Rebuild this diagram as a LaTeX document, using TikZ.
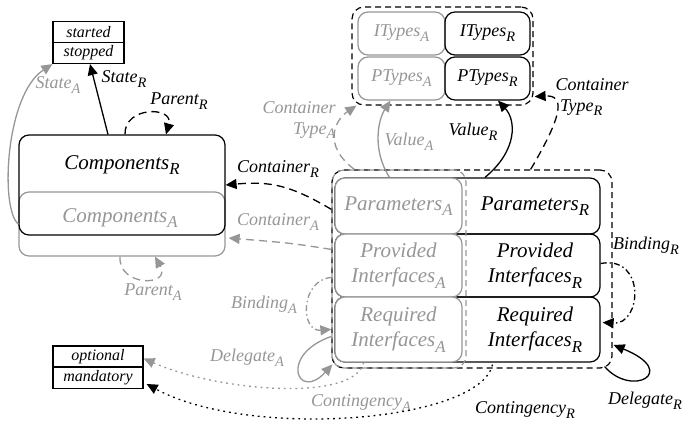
\documentclass[tikz,border=0pt]{standalone}
\usepackage{fontspec}
\setmainfont{Liberation Serif}
\usepackage{graphicx}
\usepackage{xcolor}
\usetikzlibrary{arrows.meta,calc}

\definecolor{agray}{RGB}{150,150,150}
\newcommand{\ssub}[2]{#1\raisebox{-0.27em}{\scalebox{0.8}{#2}}}

\tikzset{
    rbox/.style={draw=black, line width=1.2pt, rounded corners=10pt, inner sep=0pt},
    abox/.style={draw=agray, line width=1.2pt, rounded corners=10pt, inner sep=0pt, fill=white, text=agray},
    grpbox/.style={line width=1.2pt, dash pattern=on 6pt off 4pt, rounded corners=12pt, inner sep=0pt},
    valbox/.style={draw=black, line width=1.2pt, inner sep=0pt, minimum width=71pt, minimum height=21pt, font=\fontsize{16}{18}\selectfont\itshape},
    bigtxt/.style={font=\fontsize{21}{25}\selectfont\itshape, align=center, inner sep=1pt},
    typetxt/.style={font=\fontsize{18}{20}\selectfont\itshape},
    edgetxt/.style={font=\fontsize{18}{21}\selectfont\itshape, align=center, inner sep=1pt},
    arr/.style={line width=1.3pt, -{Triangle[length=11pt,width=10pt]}},
    longdash/.style={dash pattern=on 8pt off 5pt},
    dashdot/.style={dash pattern=on 6pt off 3pt on 1.5pt off 3pt},
    dots/.style={dash pattern=on 1.8pt off 4pt},
}

\begin{document}
\begin{tikzpicture}[x=1pt, y=-1pt]
            \useasboundingbox (0,0) rectangle (688,426);

            % state values
            \node[valbox] (started) at (88.5,32) {started};
            \node[valbox] (stopped) at (88.5,53) {stopped};
            \node[valbox, minimum width=90pt] (optional) at (98,356.5) {optional};
            \node[valbox, minimum width=90pt] (mandatory) at (98,378) {mandatory};

            % components
            \node[rbox, draw=agray, minimum width=206pt, minimum height=64pt] (compA) at (122,224) {};
            \node[rbox, minimum width=206pt, minimum height=100pt] (compR) at (122,185) {};
            \node[bigtxt] (compRtxt) at (122,165) {\ssub{Components}{R}};
            \node[bigtxt, text=agray] (compAtxt) at (120,218) {\ssub{Components}{A}};

            % types
            \node[abox, typetxt, minimum width=87pt, minimum height=43pt] (itypesA) at (401.5,33.5) {\ssub{ITypes}{A}};
            \node[abox, typetxt, minimum width=87pt, minimum height=43pt] (ptypesA) at (401.5,78.5) {\ssub{PTypes}{A}};
            \node[rbox, typetxt, minimum width=85pt, minimum height=43pt] (itypesR) at (487.5,33.5) {\ssub{ITypes}{R}};
            \node[rbox, typetxt, minimum width=85pt, minimum height=43pt] (ptypesR) at (487.5,78.5) {\ssub{PTypes}{R}};
            \node[grpbox, draw=black, minimum width=181pt, minimum height=98pt] (tgrp) at (442.5,56) {};

            % parameters and interfaces
            \node[rbox, minimum width=265pt, minimum height=56pt] (paramR) at (467.5,206) {};
            \node[rbox, minimum width=265pt, minimum height=63pt] (provR) at (467.5,265.5) {};
            \node[rbox, minimum width=265pt, minimum height=65pt] (reqR) at (467.5,329.5) {};
            \node[abox, bigtxt, minimum width=127pt, minimum height=56pt] (paramA) at (398.5,206) {\ssub{Parameters}{A}};
            \node[abox, bigtxt, minimum width=127pt, minimum height=63pt] (provA) at (398.5,265.5) {Provided\\\ssub{Interfaces}{A}};
            \node[abox, bigtxt, minimum width=127pt, minimum height=65pt] (reqA) at (398.5,329.5) {Required\\\ssub{Interfaces}{A}};
            \node[bigtxt] (paramRtxt) at (535,206) {\ssub{Parameters}{R}};
            \node[bigtxt] (provRtxt) at (535,265.5) {Provided\\\ssub{Interfaces}{R}};
            \node[bigtxt] (reqRtxt) at (535,329.5) {Required\\\ssub{Interfaces}{R}};
            \node[grpbox, draw=black, minimum width=280pt, minimum height=198pt] (pgrp) at (472,269) {};
            \node[grpbox, draw=agray, minimum width=134pt, minimum height=198pt] (agrp) at (399,269) {};

            % state
            \draw[arr] ([xshift=-14pt]compR.north) -- ([xshift=1.5pt]stopped.south);
            \node[edgetxt] (stateR) at (124,79) {\ssub{State}{R}};
            \draw[arr, agray] (compA.west) .. controls (0,210) and (5,95) .. (stopped.south west);
            \node[edgetxt, text=agray] (stateA) at (58,85) {\ssub{State}{A}};

            % parent
            \draw[arr, longdash] ([xshift=3pt]compR.north) .. controls (124,106) and (174,106) .. ([xshift=44pt]compR.north);
            \node[edgetxt] (parentR) at (179,101) {\ssub{Parent}{R}};
            \draw[arr, longdash, agray] ([xshift=-2pt]compA.south) .. controls (118,287) and (172,287) .. ([xshift=33pt]compA.south);
            \node[edgetxt, text=agray] (parentA) at (153,292) {\ssub{Parent}{A}};

            % container
            \draw[arr, longdash] ($(pgrp.north west)+(0,40)$) .. controls (290,185) and (270,181) .. (compR.east);
            \node[edgetxt] (containerR) at (278,169) {\ssub{Container}{R}};
            \draw[arr, longdash, agray] ($(pgrp.north west)+(0,80)$) .. controls (290,243) .. ($(compA.east)+(3,14)$);
            \node[edgetxt, text=agray] (containerA) at (278,222) {\ssub{Container}{A}};

            % value
            \draw[arr, agray] ([xshift=-9pt]paramA.north) .. controls (372,150) and (378,120) .. ([xshift=-11pt]ptypesA.south);
            \node[edgetxt, text=agray] (valueA) at (409,142) {\ssub{Value}{A}};
            \draw[arr] ([xshift=17.5pt]paramR.north) .. controls (518,150) and (516,120) .. ([xshift=10.5pt]ptypesR.south);
            \node[edgetxt] (valueR) at (473,132) {\ssub{Value}{R}};

            % container type
            \draw[arr, longdash, agray] ($(pgrp.north west)+(23,0)$) .. controls (322,145) and (335,120) .. ($(tgrp.south west)+(5,0)$);
            \node[edgetxt, text=agray, align=right] (ctypeA) at (299,120) {Container\\\ssub{Type}{A}};
            \draw[arr, longdash] ($(pgrp.north east)+(-82,0)$) .. controls (566,110) and (563,95) .. ($(tgrp.south east)+(1,-9)$);
            \node[edgetxt, align=left] (ctypeR) at (592,97) {Container\\\ \ssub{Type}{R}};

            % binding
            \draw[arr, dashdot] ($(provR.east)+(0,-2)$) .. controls (646,255) and (642,325) .. ($(reqR.east)+(2,-7)$);
            \node[edgetxt] (bindingR) at (646,246) {\ssub{Binding}{R}};
            \draw[arr, dashdot, agray] ($(pgrp.north west)+(0,108)$) .. controls (300,280) and (300,332) .. ($(pgrp.north west)+(0,160)$);
            \node[edgetxt, text=agray] (bindingA) at (264,305) {\ssub{Binding}{A}};

            % delegate
            \draw[arr] ($(pgrp.south east)+(-8,-2)$) .. controls (632,398) and (680,372) .. ($(pgrp.east)+(1,76)$);
            \node[edgetxt] (delegateR) at (645,401) {\ssub{Delegate}{R}};
            \draw[arr, agray] ($(pgrp.north west)+(0,167)$) .. controls (278,355) and (298,402) .. ($(pgrp.north west)+(1,195)$);
            \node[edgetxt, text=agray] (delegateA) at (247,358) {\ssub{Delegate}{A}};

            % contingency
            \draw[arr, dots, agray] ($(reqA.south)+(-35,0)$) .. controls (355,402) and (220,392) .. ($(optional.east)+(0,2)$);
            \node[edgetxt, text=agray] (contingencyA) at (361,403) {\ssub{Contingency}{A}};
            \draw[arr, dots] ($(reqR.south)+(25,2)$) .. controls (480,422) and (250,440) .. ($(mandatory.east)+(3,6)$);
            \node[edgetxt] (contingencyR) at (525,410) {\ssub{Contingency}{R}};
        \end{tikzpicture}
\end{document}
